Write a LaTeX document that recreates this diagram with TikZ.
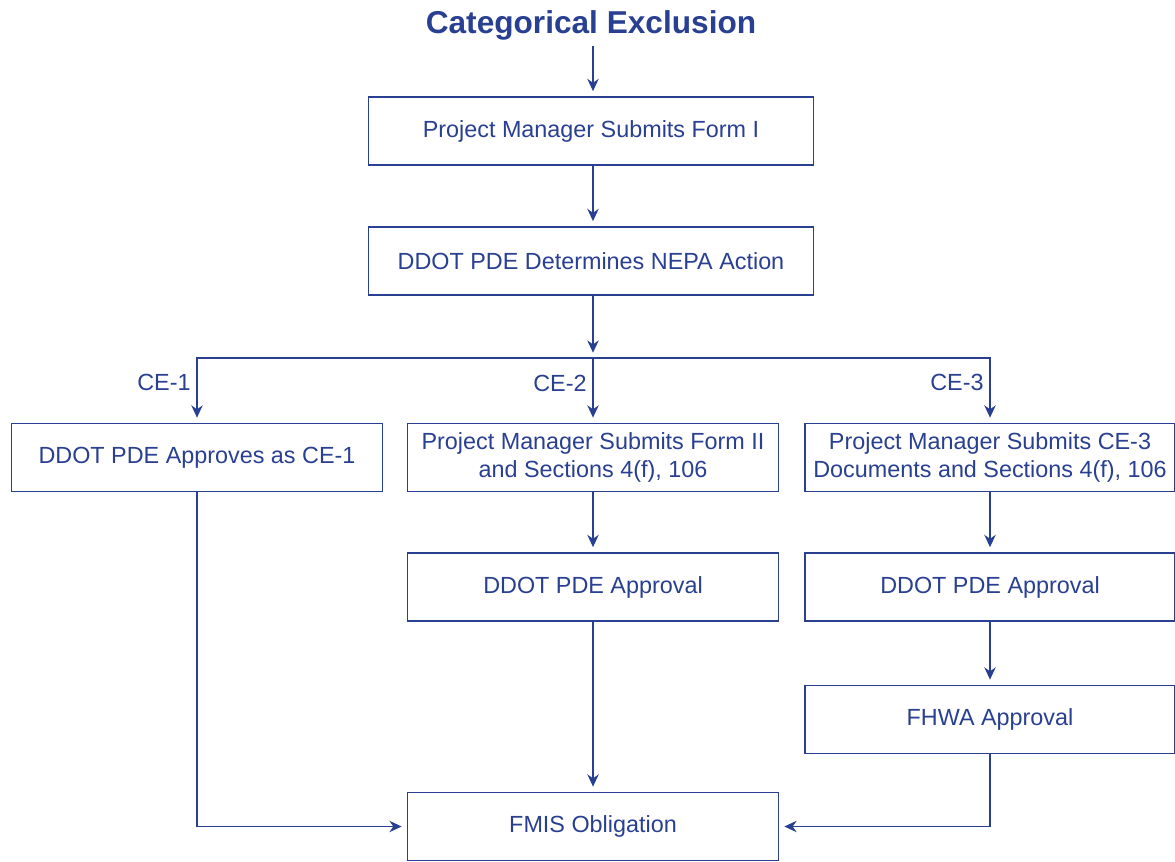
\documentclass[tikz,border=0pt]{standalone}
\usepackage{fontspec}
\setmainfont{Liberation Sans}
\definecolor{ddotblue}{RGB}{41, 63, 145}
\usetikzlibrary{arrows.meta, positioning}

\begin{document}
\begin{tikzpicture}[x=0.02cm, y=-0.02cm,
  box/.style={draw=ddotblue, line width=0.7pt, text=ddotblue, font=\fontsize{13.3}{16}\selectfont, align=center, minimum height=1.36cm, inner sep=2pt},
  flow/.style={draw=ddotblue, line width=0.7pt, -{Stealth[length=7pt, width=6.5pt]}, shorten >=3pt},
  branch/.style={text=ddotblue, font=\fontsize{13.3}{16}\selectfont}]
  \useasboundingbox (0,0) rectangle (1175,861);

  % Title and main column
  \node[text=ddotblue, font=\bfseries\fontsize{18}{22}\selectfont] (title) at (591,25) {Categorical Exclusion};
  \node[box, minimum width=8.9cm] (form1) at (591,131) {Project Manager Submits Form I};
  \node[box, minimum width=8.9cm] (nepa) at (591,261) {DDOT PDE Determines NEPA Action};
  \coordinate (split) at (593,358);

  \draw[flow] (title.south -| split) -- (form1.north -| split);
  \draw[flow] (form1.south -| split) -- (nepa.north -| split);
  \draw[flow] (nepa.south -| split) -- (split);

  % Three CE branches
  \node[box, minimum width=7.42cm] (ce1) at (197,457.5) {DDOT PDE Approves as CE-1};
  \node[box, minimum width=7.42cm] (ce2) at (593,457.5) {Project Manager Submits Form II\\and Sections 4(f), 106};
  \node[box, minimum width=7.4cm] (ce3) at (990,457.5) {Project Manager Submits CE-3\\Documents and Sections 4(f), 106};

  \draw[flow] (split) -| node[branch, pos=0.69, left] {CE-1} (ce1);
  \draw[flow] (split) -- node[branch, pos=0.39, left] {CE-2} (ce2);
  \draw[flow] (split) -| node[branch, pos=0.69, left] {CE-3} (ce3);

  % Approvals
  \node[box, minimum width=7.42cm] (appr2) at (593,587) {DDOT PDE Approval};
  \node[box, minimum width=7.4cm] (appr3) at (990,587) {DDOT PDE Approval};
  \node[box, minimum width=7.4cm] (fhwa) at (990,719.5) {FHWA Approval};
  \node[box, minimum width=7.42cm] (fmis) at (593,826.5) {FMIS Obligation};

  \draw[flow] (ce2) -- (appr2);
  \draw[flow] (ce3) -- (appr3);
  \draw[flow] (appr3) -- (fhwa);
  \draw[flow] (appr2) -- (fmis);
  \draw[flow] (ce1) |- (fmis);
  \draw[flow] (fhwa) |- (fmis);
\end{tikzpicture}
\end{document}
